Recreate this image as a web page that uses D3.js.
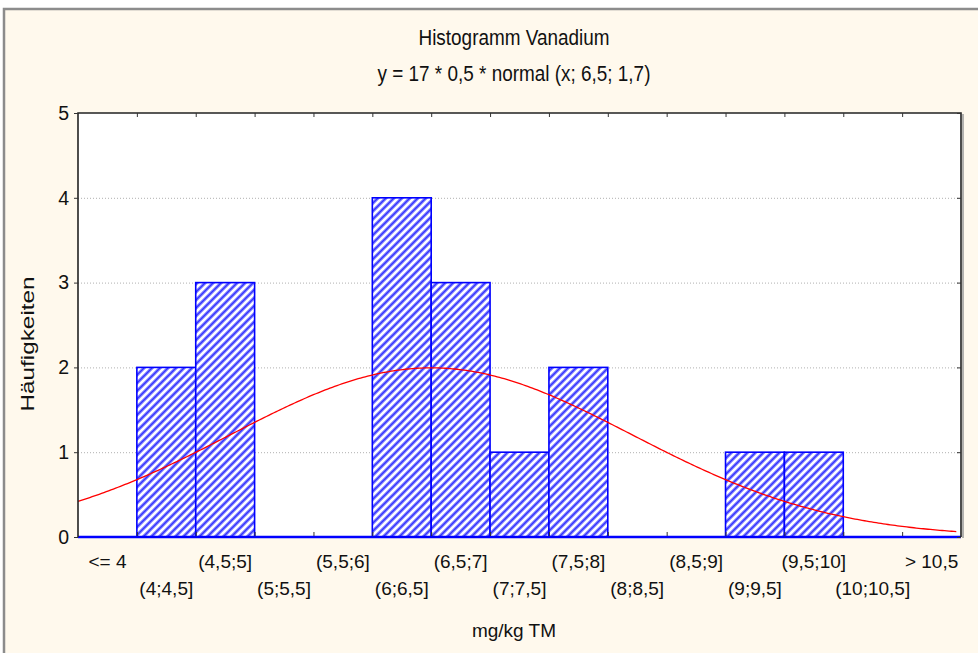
<!DOCTYPE html>
<html>
<head>
<meta charset="utf-8">
<script src="https://cdn.jsdelivr.net/npm/d3@7"></script>
<style>
  html, body { margin: 0; padding: 0; background: #ffffff; }
  svg { display: block; }
  text { font-family: "Liberation Sans", Arial, sans-serif; fill: #111; }
</style>
</head>
<body>
<svg id="chart" width="978" height="653"></svg>
<script>
// Histogram classes (mg/kg TM) and observed frequencies
const categories = ["<= 4", "(4;4,5]", "(4,5;5]", "(5;5,5]", "(5,5;6]", "(6;6,5]", "(6,5;7]",
  "(7;7,5]", "(7,5;8]", "(8;8,5]", "(8,5;9]", "(9;9,5]", "(9,5;10]", "(10;10,5]", "> 10,5"];
const counts = [0, 2, 3, 0, 0, 4, 3, 1, 2, 0, 0, 1, 1, 0, 0];
const yTicks = [0, 1, 2, 3, 4, 5];

// Fitted normal curve: y = n * binWidth * normal(x; mean; sd)
const fitN = 17;
const fitBinWidth = 0.5;
const fitMean = 6.5;
const fitSd = 1.7;
const valueDomain = [3.5, 11.0];   // class range covered by the x axis

const titleText = "Histogramm Vanadium";
const subtitleText = "y = 17 * 0,5 * normal (x; 6,5; 1,7)";
const xTitle = "mg/kg TM";
const yTitle = "Häufigkeiten";

const svg = d3.select("#chart");
const plot = { left: 78, right: 961, top: 113, bottom: 537 };
const cx = 514;

// window frame
svg.append("rect").attr("x", 4).attr("y", 9).attr("width", 1100).attr("height", 700)
  .attr("fill", "#fff9ed").attr("stroke", "#8c8c8c").attr("stroke-width", 2.5);

// hatch pattern for the bars
const defs = svg.append("defs");
const pat = defs.append("pattern").attr("id", "hatch")
  .attr("patternUnits", "userSpaceOnUse").attr("width", 8).attr("height", 8);
pat.append("rect").attr("width", 8).attr("height", 8).attr("fill", "#ffffff");
const hatchPath = "M-2,10 L10,-2 M-2,2 L2,-2 M6,10 L10,6";
pat.append("path").attr("d", hatchPath).attr("stroke", "#8080ff").attr("stroke-width", 3.2);
pat.append("path").attr("d", hatchPath).attr("stroke", "#3030ff").attr("stroke-width", 1.2);

const x = d3.scaleBand().domain(categories).range([plot.left, plot.right]).padding(0);
const xv = d3.scaleLinear().domain(valueDomain).range([plot.left, plot.right]);
const y = d3.scaleLinear().domain([0, 5]).range([plot.bottom, plot.top]);

// plot background
svg.append("rect").attr("x", plot.left).attr("y", plot.top)
  .attr("width", plot.right - plot.left).attr("height", plot.bottom - plot.top)
  .attr("fill", "#ffffff");

// dotted grid
svg.append("g").selectAll("line").data(yTicks.filter(d => d > 0 && d < 5)).join("line")
  .attr("x1", plot.left).attr("x2", plot.right)
  .attr("y1", d => y(d) + 0.5).attr("y2", d => y(d) + 0.5)
  .attr("stroke", "#b0b0b0").attr("stroke-width", 1).attr("stroke-dasharray", "1,2");

// bars
svg.append("g").selectAll("rect").data(categories.map((c, i) => ({ c, v: counts[i] })).filter(d => d.v > 0))
  .join("rect")
  .attr("x", d => x(d.c)).attr("y", d => y(d.v))
  .attr("width", x.bandwidth()).attr("height", d => y(0) - y(d.v))
  .attr("fill", "url(#hatch)").attr("stroke", "#0000ff").attr("stroke-width", 1.6);

// zero line drawn in bar colour
svg.append("line").attr("x1", plot.left).attr("x2", plot.right)
  .attr("y1", plot.bottom).attr("y2", plot.bottom)
  .attr("stroke", "#0000ff").attr("stroke-width", 2.5);

// normal curve
const pdf = v => Math.exp(-0.5 * Math.pow((v - fitMean) / fitSd, 2)) / (fitSd * Math.sqrt(2 * Math.PI));
const curvePts = d3.range(valueDomain[0], valueDomain[1] - 0.04, 0.02).map(v => [v, fitN * fitBinWidth * pdf(v)]);
svg.append("path").datum(curvePts)
  .attr("d", d3.line().x(d => xv(d[0])).y(d => y(d[1])))
  .attr("fill", "none").attr("stroke", "#ff0000").attr("stroke-width", 1.3);

// plot frame
svg.append("line").attr("x1", plot.right + 2).attr("x2", plot.right + 2)
  .attr("y1", plot.top + 1).attr("y2", plot.bottom + 1).attr("stroke", "#9a9a9a").attr("stroke-width", 1.5);
svg.append("path")
  .attr("d", `M${plot.left},${plot.bottom} V${plot.top} H${plot.right} V${plot.bottom}`)
  .attr("fill", "none").attr("stroke", "#222").attr("stroke-width", 1.6);

// axes
const boundaries = categories.slice(1).map(c => x(c));
const pix = d3.scaleLinear().domain([plot.left, plot.right]).range([plot.left, plot.right]);
const gb = svg.append("g").attr("transform", `translate(0,${plot.bottom - 1})`)
  .call(d3.axisBottom(pix).tickValues(boundaries).tickSize(-4).tickFormat(""));
gb.select(".domain").remove();
gb.selectAll("line").attr("stroke", "#333");
const gt = svg.append("g").attr("transform", `translate(0,${plot.top})`)
  .call(d3.axisTop(pix).tickValues(boundaries).tickSize(-4).tickFormat(""));
gt.select(".domain").remove();
gt.selectAll("line").attr("stroke", "#333");

const gl = svg.append("g").attr("transform", `translate(${plot.left},0)`)
  .call(d3.axisLeft(y).tickValues(yTicks).tickSize(4).tickPadding(5).tickFormat(d3.format("d")));
gl.select(".domain").remove();
gl.selectAll("line").attr("stroke", "#333");
gl.selectAll("text").attr("font-size", 19.5).attr("font-family", "Liberation Sans, Arial, sans-serif").attr("fill", "#111");

const gr = svg.append("g").attr("transform", `translate(${plot.right},0)`)
  .call(d3.axisRight(y).tickValues(yTicks).tickSize(-4).tickFormat(""));
gr.select(".domain").remove();
gr.selectAll("line").attr("stroke", "#333");

// class labels in two staggered rows
svg.append("g").selectAll("text").data(categories).join("text")
  .attr("x", d => x(d) + x.bandwidth() / 2)
  .attr("y", (d, i) => i % 2 === 0 ? 568 : 595)
  .attr("text-anchor", "middle").attr("font-size", 19)
  .text(d => d);

// titles (slightly condensed face)
svg.append("text").attr("transform", `translate(${cx},45) scale(0.88,1)`)
  .attr("text-anchor", "middle").attr("font-size", 21.5).text(titleText);
svg.append("text").attr("transform", `translate(${cx},81) scale(0.88,1)`)
  .attr("text-anchor", "middle").attr("font-size", 21.5).text(subtitleText);
svg.append("text").attr("x", cx).attr("y", 637).attr("text-anchor", "middle").attr("font-size", 19).text(xTitle);
svg.append("text").attr("transform", `translate(34,344) rotate(-90) scale(1.28,1)`)
  .attr("text-anchor", "middle").attr("font-size", 19).text(yTitle);
</script>
</body>
</html>
